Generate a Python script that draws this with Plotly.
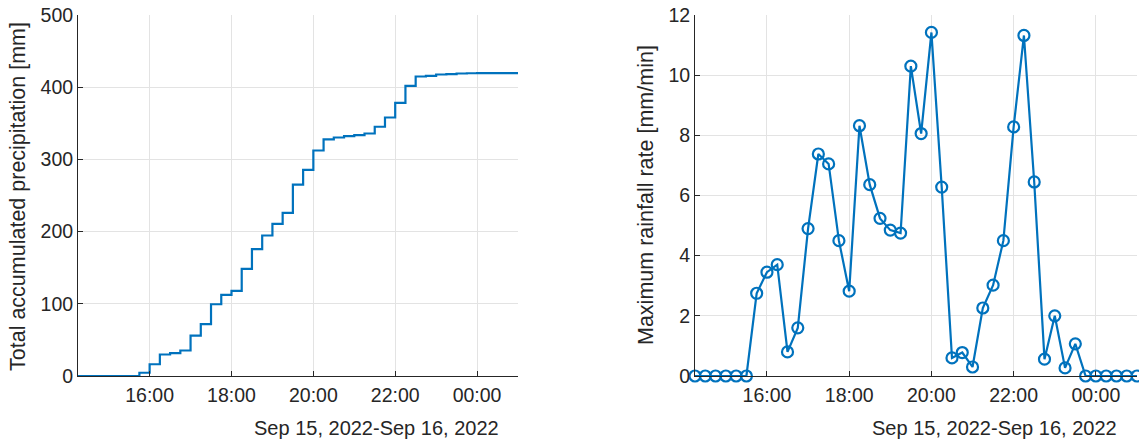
import plotly.graph_objects as go
import pandas as pd

# ---- data ----
times = pd.date_range("2022-09-15 14:15", "2022-09-16 01:00", freq="15min")

accum_mm = [0, 0, 0, 0, 0, 0, 4.5, 16.3, 29.8, 31.6, 35.3, 56, 71.8, 99.4, 112.4,
            118, 148.4, 175.6, 194.6, 210.8, 226, 265.2, 285.6, 312.3, 327.6, 330.3,
            332.1, 333.5, 335.9, 345.2, 358, 378.4, 401.9, 414.8, 415.8, 417.6, 418.2,
            419, 419.3, 419.5, 419.5, 419.5, 419.5, 419.5]

max_rate = [0, 0, 0, 0, 0, 0, 2.75, 3.45, 3.7, 0.8, 1.6, 4.9, 7.38, 7.05, 4.5,
            2.82, 8.32, 6.36, 5.24, 4.85, 4.75, 10.3, 8.06, 11.42, 6.28, 0.6,
            0.78, 0.3, 2.26, 3.02, 4.5, 8.28, 11.32, 6.45, 0.56, 2.0, 0.27, 1.07,
            0, 0, 0, 0, 0, 0]

xtick_vals = ["2022-09-15 16:00", "2022-09-15 18:00", "2022-09-15 20:00",
              "2022-09-15 22:00", "2022-09-16 00:00"]
xtick_text = ["16:00", "18:00", "20:00", "22:00", "00:00"]
date_label = "Sep 15, 2022-Sep 16, 2022"
left_title = "Total accumulated precipitation [mm]"
right_title = "Maximum rainfall rate [mm/min]"

BLUE = "#0072BD"
TXT = "#262626"
GRID = "#e3e3e3"
FONT = "Liberation Sans, Arial, sans-serif"
TICK_FS = 19.5
TITLE_FS = 21.5
DATE_FS = 20

W, H = 1139, 439


def px(xp):
    return xp / W


def py(yp):
    return (H - yp) / H


fig = go.Figure()
fig.add_trace(go.Scatter(x=times, y=accum_mm, mode="lines", line=dict(color=BLUE, width=2.2, shape="hv"),
                         xaxis="x", yaxis="y", showlegend=False))
fig.add_trace(go.Scatter(x=times, y=max_rate, mode="lines+markers",
                         line=dict(color=BLUE, width=2.2),
                         marker=dict(symbol="circle-open", size=11, color=BLUE, line=dict(width=2.2, color=BLUE)),
                         xaxis="x2", yaxis="y2", showlegend=False, cliponaxis=False))

ydom = [py(376), py(15)]
xdom1 = [px(78), px(518)]
xdom2 = [px(695), px(1137)]
xr = ["2022-09-15 14:15", "2022-09-16 01:00"]

common_x = dict(type="date", range=xr, tickvals=xtick_vals, ticktext=xtick_text,
                showgrid=True, gridcolor=GRID, gridwidth=1, showline=True, linecolor=TXT,
                linewidth=1, ticks="inside", ticklen=5, tickcolor=TXT, zeroline=False,
                ticklabeloverflow="allow", ticklabelstandoff=2,
                tickfont=dict(family=FONT, size=TICK_FS, color=TXT), automargin=False)
common_y = dict(showgrid=True, gridcolor=GRID, gridwidth=1, showline=True, linecolor=TXT,
                linewidth=1, ticks="inside", ticklen=5, tickcolor=TXT, zeroline=False,
                ticklabeloverflow="allow",
                tickfont=dict(family=FONT, size=TICK_FS, color=TXT), automargin=False)

fig.update_layout(
    width=W, height=H,
    margin=dict(l=0, r=0, t=0, b=0),
    paper_bgcolor="white", plot_bgcolor="white",
    font=dict(family=FONT, color=TXT),
    xaxis=dict(domain=xdom1, anchor="y", **common_x),
    yaxis=dict(domain=ydom, anchor="x", range=[0, 500], tickvals=[0, 100, 200, 300, 400, 500], **common_y),
    xaxis2=dict(domain=xdom2, anchor="y2", **common_x),
    yaxis2=dict(domain=ydom, anchor="x2", range=[0, 12], tickvals=[0, 2, 4, 6, 8, 10, 12], **common_y),
    annotations=[
        dict(text=date_label, xref="paper", yref="paper", x=px(501), y=py(428),
             xanchor="right", yanchor="middle", showarrow=False, font=dict(family=FONT, size=DATE_FS, color=TXT)),
        dict(text=date_label, xref="paper", yref="paper", x=px(1119), y=py(428),
             xanchor="right", yanchor="middle", showarrow=False, font=dict(family=FONT, size=DATE_FS, color=TXT)),
        dict(text=left_title, xref="paper", yref="paper", x=px(18), y=py(197),
             xanchor="center", yanchor="middle", textangle=-90, showarrow=False,
             font=dict(family=FONT, size=TITLE_FS, color=TXT)),
        dict(text=right_title, xref="paper", yref="paper", x=px(646), y=py(195),
             xanchor="center", yanchor="middle", textangle=-90, showarrow=False,
             font=dict(family=FONT, size=TITLE_FS, color=TXT)),
    ],
)

# remove the default 8px body margin so the figure fills the window exactly
fig.write_html("out.html", config={"displayModeBar": False},
               post_script="document.body.style.margin='0';")
